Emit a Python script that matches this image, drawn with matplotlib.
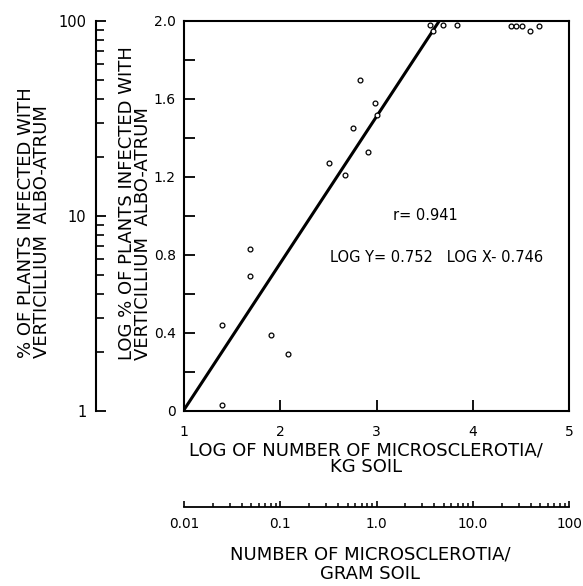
import matplotlib
matplotlib.use('Agg')
import matplotlib.pyplot as plt
from matplotlib.ticker import FixedLocator, FixedFormatter, LogLocator, NullFormatter

# ---- data ----
log_ms_per_kg = [1.39, 1.39, 1.69, 1.69, 1.90, 2.08, 2.51, 2.67, 2.76, 2.83, 2.91, 2.98, 3.01,
                 3.56, 3.59, 3.69, 3.84, 4.40, 4.45, 4.51, 4.59, 4.69]
log_pct_infected = [0.03, 0.44, 0.69, 0.83, 0.39, 0.29, 1.27, 1.21, 1.45, 1.70, 1.33, 1.58, 1.52,
                    1.98, 1.95, 1.98, 1.98, 1.975, 1.975, 1.975, 1.95, 1.975]
fit_slope = 0.752
fit_intercept = -0.746
fit_x_range = [1.0, 3.65]
r_value = 0.941

y_major = [0, 0.4, 0.8, 1.2, 1.6, 2.0]
y_major_labels = ["0", "0.4", "0.8", "1.2", "1.6", "2.0"]
y_minor = [0.2, 0.6, 1.0, 1.4, 1.8]
x_major = [1, 2, 3, 4, 5]
x_major_labels = ["1", "2", "3", "4", "5"]
pct_ticks = [1, 10, 100]
pct_labels = ["1", "10", "100"]
gram_ticks = [0.01, 0.1, 1.0, 10.0, 100]
gram_labels = ["0.01", "0.1", "1.0", "10.0", "100"]

W, H = 583, 586
fig = plt.figure(figsize=(W / 100, H / 100), dpi=100)
fig.patch.set_facecolor('white')

L, R, T, B = 184, 569, 21, 411
ax_rect = [L / W, (H - B) / H, (R - L) / W, (B - T) / H]
ax = fig.add_axes(ax_rect)
ax.set_xlim(1, 5)
ax.set_ylim(0, 2.0)
for s in ax.spines.values():
    s.set_linewidth(1.5)

fx = fit_x_range
fy = [fit_slope * v + fit_intercept for v in fx]
ax.plot(fx, fy, color='black', lw=2.2, solid_capstyle='butt', zorder=2)
ax.scatter(log_ms_per_kg, log_pct_infected, s=12, facecolor='white',
           edgecolor='black', linewidth=0.9, zorder=3, clip_on=False)

ax.yaxis.set_major_locator(FixedLocator(y_major))
ax.yaxis.set_major_formatter(FixedFormatter(y_major_labels))
ax.yaxis.set_minor_locator(FixedLocator(y_minor))
ax.xaxis.set_major_locator(FixedLocator(x_major))
ax.xaxis.set_major_formatter(FixedFormatter(x_major_labels))
ax.tick_params(axis='y', which='both', direction='in', length=8, width=1.3,
               labelsize=10, pad=6)
ax.tick_params(axis='x', which='major', direction='in', length=8, width=1.3,
               labelsize=10, pad=10)

ax.text(3.51, 1.0, f"r= {r_value}", fontsize=10.5, ha='center', va='center')
ax.text(3.62, 0.787, f"LOG Y= {fit_slope}   LOG X- {abs(fit_intercept)}",
        fontsize=10.5, ha='center', va='center')

# secondary left axis: % plants infected (log)
ax_l = fig.add_axes([96 / W, (H - B) / H, 0.001, (B - T) / H])
ax_l.set_yscale('log')
ax_l.set_ylim(1, 100)
ax_l.patch.set_visible(False)
for k in ['right', 'top', 'bottom']:
    ax_l.spines[k].set_visible(False)
ax_l.spines['left'].set_linewidth(1.5)
ax_l.set_xticks([])
ax_l.yaxis.set_major_locator(FixedLocator(pct_ticks))
ax_l.yaxis.set_major_formatter(FixedFormatter(pct_labels))
ax_l.yaxis.set_minor_locator(LogLocator(base=10, subs=range(2, 10)))
ax_l.yaxis.set_minor_formatter(NullFormatter())
ax_l.tick_params(axis='y', which='major', direction='in', length=7, width=1.3,
                 labelsize=10.5, pad=7)
ax_l.tick_params(axis='y', which='minor', direction='in', length=5.5, width=1.2)

# secondary bottom axis: microsclerotia per gram (log)
ax_b = fig.add_axes([L / W, (H - 507) / H, (R - L) / W, 0.001])
ax_b.set_xscale('log')
ax_b.set_xlim(0.01, 100)
ax_b.patch.set_visible(False)
for k in ['left', 'right', 'top']:
    ax_b.spines[k].set_visible(False)
ax_b.spines['bottom'].set_linewidth(1.3)
ax_b.set_yticks([])
ax_b.xaxis.set_major_locator(FixedLocator(gram_ticks))
ax_b.xaxis.set_major_formatter(FixedFormatter(gram_labels))
ax_b.xaxis.set_minor_locator(LogLocator(base=10, subs=range(2, 10)))
ax_b.xaxis.set_minor_formatter(NullFormatter())
ax_b.tick_params(axis='x', which='major', direction='in', length=4.5, width=1.2,
                 labelsize=9.8, pad=7)
ax_b.tick_params(axis='x', which='minor', direction='in', length=2.8, width=1.1)

# axis titles
lab_fs = 13
def fy_(py):
    return (H - py) / H
def fx_(px):
    return px / W

fig.text(fx_(135), fy_(360), "LOG % OF PLANTS INFECTED WITH\nVERTICILLIUM  ALBO-ATRUM",
         rotation=90, ha='center', va='bottom', multialignment='left',
         linespacing=0.8, fontsize=lab_fs)
fig.text(fx_(34), fy_(358), "% OF PLANTS INFECTED WITH\nVERTICILLIUM  ALBO-ATRUM",
         rotation=90, ha='center', va='bottom', multialignment='left',
         linespacing=0.8, fontsize=lab_fs)

fig.text(fx_(366), fy_(459), "LOG OF NUMBER OF MICROSCLEROTIA/\nKG SOIL", ha='center',
         va='center', multialignment='center', linespacing=0.92, fontsize=lab_fs)
fig.text(fx_(370), fy_(564), "NUMBER OF MICROSCLEROTIA/\nGRAM SOIL", ha='center',
         va='center', multialignment='center', linespacing=1.1, fontsize=lab_fs)

fig.savefig('out.png', dpi=100, facecolor='white')
